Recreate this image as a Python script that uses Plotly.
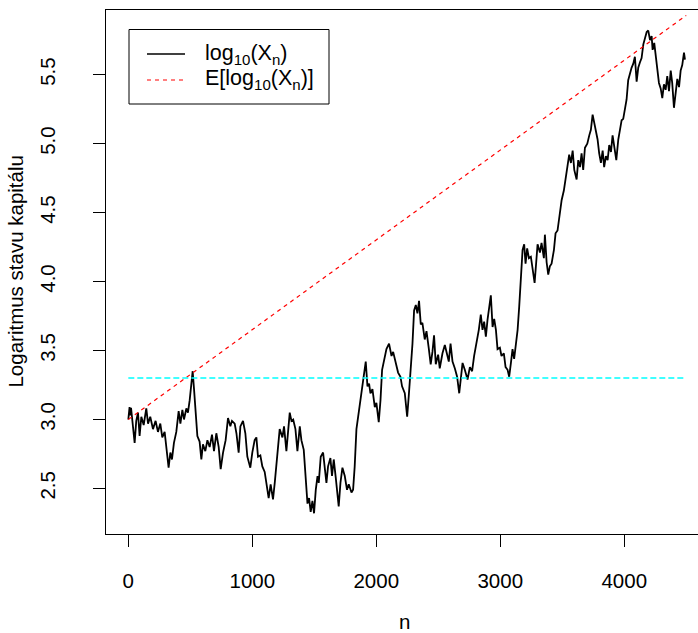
import plotly.graph_objects as go

# ---- data ----
n_steps = [0, 10, 17, 22, 51, 64, 78, 91, 105, 124, 145, 159, 177, 199, 220, 239, 258, 274, 293, 307,
           325, 339, 352, 368, 387, 406, 420, 436, 449, 468, 481, 495, 508, 519, 530, 543, 557, 575, 589,
           602, 621, 638, 656, 675, 691, 710, 729, 745, 764, 785, 804, 823, 836,
           858, 872, 890, 904, 925, 944, 960, 984, 1000, 1019, 1033, 1046, 1065, 1081, 1100, 1119, 1132,
           1148, 1167, 1181, 1199, 1221, 1243, 1256, 1275, 1288, 1302, 1316, 1330, 1348, 1364, 1383, 1396,
           1415, 1429, 1445, 1458, 1471, 1485, 1498, 1512, 1526, 1536, 1552, 1571, 1584, 1598, 1611, 1630,
           1643, 1657, 1673, 1697, 1711, 1727, 1746, 1764, 1778, 1800, 1813, 1826, 1840,
           1867, 1885, 1899, 1915, 1929, 1942, 1953, 1969, 1988, 2001, 2020, 2034, 2047, 2063, 2082, 2103,
           2123, 2136, 2155, 2176, 2195, 2208, 2230, 2249, 2262, 2278, 2292, 2305, 2319, 2332, 2345, 2359,
           2372, 2391, 2405, 2423, 2439, 2453, 2466, 2480, 2499, 2512, 2534, 2553, 2567, 2585, 2599, 2615,
           2634, 2652, 2669, 2682, 2696,
           2714, 2736, 2755, 2773, 2789, 2808, 2827, 2843, 2857, 2870, 2884, 2897, 2910, 2924, 2938, 2951,
           2965, 2978, 2997, 3010, 3029, 3043, 3059, 3072, 3086, 3099, 3112, 3126, 3140, 3153, 3166, 3180,
           3193, 3204, 3217, 3231, 3247, 3261, 3277, 3290, 3301, 3320, 3333, 3352, 3360, 3374, 3387, 3400,
           3414, 3433, 3446, 3462, 3475, 3495, 3513, 3530, 3543, 3556, 3570, 3584, 3597,
           3616, 3629, 3643, 3656, 3669, 3683, 3702, 3718, 3731, 3745, 3758, 3772, 3785, 3798, 3812, 3826,
           3838, 3852, 3866, 3879, 3893, 3906, 3919, 3936, 3952, 3965, 3979, 3992, 4006, 4019, 4032, 4046,
           4059, 4073, 4086, 4100, 4113, 4127, 4140, 4154, 4167, 4181, 4194, 4208, 4221, 4229, 4242, 4256,
           4270, 4280, 4294, 4307, 4320, 4334, 4347, 4361, 4375, 4387, 4401, 4415, 4428, 4442, 4455, 4468,
           4482, 4490]

log_capital = [3.00, 3.09, 3.03, 3.085, 2.83, 2.99, 3.05, 2.88, 3.02, 2.96, 3.08, 2.97, 3.02, 2.93, 2.99,
               2.91, 2.97, 2.87, 2.91, 2.78, 2.65, 2.76, 2.71, 2.83, 2.91, 3.06, 2.97, 3.07, 3.00, 3.08,
               3.05, 3.14, 3.24, 3.35, 3.22, 3.07, 2.88, 2.84, 2.71, 2.82, 2.77, 2.85, 2.80, 2.89, 2.77,
               2.90, 2.80, 2.64, 2.76, 2.85, 3.01, 2.95, 2.99,
               2.97, 2.90, 2.76, 2.95, 2.99, 2.90, 2.73, 2.65, 2.76, 2.85, 2.87, 2.73, 2.74, 2.66, 2.62,
               2.51, 2.43, 2.53, 2.42, 2.54, 2.73, 2.93, 2.87, 2.95, 2.77, 2.91, 3.05, 2.99, 3.00, 2.93,
               2.77, 2.95, 2.85, 2.78, 2.61, 2.39, 2.43, 2.33, 2.41, 2.32, 2.49, 2.59, 2.54, 2.73, 2.76,
               2.65, 2.54, 2.66, 2.72, 2.59, 2.71, 2.58, 2.37, 2.54, 2.65, 2.59, 2.49, 2.53, 2.47, 2.49,
               2.66, 2.93,
               3.11, 3.19, 3.29, 3.42, 3.24, 3.26, 3.19, 3.22, 3.09, 3.12, 2.98, 3.14, 3.36, 3.42, 3.51,
               3.55, 3.46, 3.49, 3.41, 3.34, 3.31, 3.24, 3.19, 3.02, 3.17, 3.34, 3.55, 3.79, 3.83, 3.77,
               3.86, 3.69, 3.70, 3.58, 3.64, 3.52, 3.40, 3.49, 3.61, 3.40, 3.47, 3.37, 3.48, 3.54, 3.48,
               3.42, 3.55, 3.42, 3.37, 3.31, 3.19, 3.29, 3.41,
               3.36, 3.29, 3.38, 3.35, 3.46, 3.55, 3.65, 3.76, 3.65, 3.71, 3.60, 3.72, 3.82, 3.90, 3.67,
               3.73, 3.65, 3.51, 3.52, 3.46, 3.48, 3.38, 3.36, 3.31, 3.41, 3.51, 3.44, 3.55, 3.65, 3.82,
               4.01, 4.23, 4.27, 4.13, 4.24, 4.17, 4.18, 4.08, 3.99, 4.14, 4.27, 4.21, 4.28, 4.17, 4.34,
               4.14, 4.05, 4.11, 4.13, 4.23, 4.35, 4.37, 4.47, 4.59, 4.66, 4.76, 4.86, 4.92, 4.86, 4.95,
               4.81,
               4.74, 4.88, 4.83, 4.93, 4.81, 4.97, 5.00, 5.06, 5.10, 5.21, 5.15, 5.10, 5.03, 4.93, 4.86,
               4.95, 4.83, 4.91, 4.88, 4.99, 4.94, 5.06, 4.98, 4.88, 5.03, 5.10, 5.17, 5.18, 5.24, 5.32,
               5.46, 5.51, 5.55, 5.58, 5.63, 5.45, 5.55, 5.59, 5.62, 5.72, 5.76, 5.81, 5.82, 5.75, 5.78,
               5.68, 5.73, 5.62, 5.52, 5.44, 5.40, 5.33, 5.43, 5.39, 5.49, 5.38, 5.53, 5.44, 5.26, 5.38,
               5.47, 5.41, 5.53, 5.57, 5.66, 5.61]

expected_n = [0, 4500]
expected_log = [3.0, 5.93]

target_n = [0, 4500]
target_log = [3.301, 3.301]

x_ticks = [0, 1000, 2000, 3000, 4000]
y_ticks = [2.5, 3.0, 3.5, 4.0, 4.5, 5.0, 5.5]
y_tick_text = ["2.5", "3.0", "3.5", "4.0", "4.5", "5.0", "5.5"]

legend_labels = ["log<sub>10</sub>(X<sub>n</sub>)", "E[log<sub>10</sub>(X<sub>n</sub>)]"]
legend_colors = ["black", "#ff0000"]
legend_dashes = ["solid", "4px,4px"]

FONT = "Liberation Sans, Arial, sans-serif"
FS = 20.5
FS_LEG = 21.5

# plot-area pixel geometry (used only to place the hand-drawn legend box)
PL, PW, PT, PH = 106, 592, 10, 524


def px_x(x):
    return (x - PL) / PW


def px_y(y):
    return (PT + PH - y) / PH


fig = go.Figure()
fig.add_trace(go.Scatter(x=n_steps, y=log_capital, mode="lines",
                         line=dict(color="black", width=1.8),
                         name=legend_labels[0], showlegend=False))
fig.add_trace(go.Scatter(x=expected_n, y=expected_log, mode="lines",
                         line=dict(color="#ff0000", width=1.2, dash="4px,4px"),
                         name=legend_labels[1], showlegend=False))
fig.add_trace(go.Scatter(x=target_n, y=target_log, mode="lines",
                         line=dict(color="#00ffff", width=1.6, dash="6px,3px"),
                         showlegend=False))

shapes = [dict(type="rect", xref="paper", yref="paper",
               x0=px_x(129), x1=px_x(329), y0=px_y(104), y1=px_y(29.5),
               line=dict(color="black", width=1), fillcolor="white", layer="above")]
annotations = []
for i, (lab, col, dsh) in enumerate(zip(legend_labels, legend_colors, legend_dashes)):
    yc = 54 + 26 * i
    shapes.append(dict(type="line", xref="paper", yref="paper",
                       x0=px_x(147), x1=px_x(185), y0=px_y(yc), y1=px_y(yc),
                       line=dict(color=col, width=1.2 if i else 1.3, dash=dsh), layer="above"))
    annotations.append(dict(text=lab, xref="paper", yref="paper", x=px_x(203), y=px_y(yc),
                            xanchor="left", yanchor="middle", showarrow=False,
                            font=dict(family=FONT, size=FS_LEG)))

annotations += [
    dict(text="n", xref="paper", yref="paper", x=0.505, y=-0.167,
         showarrow=False, font=dict(family=FONT, size=FS), xanchor="center", yanchor="middle"),
    dict(text="Logaritmus stavu kapitálu", xref="paper", yref="paper", x=-0.1545, y=0.5,
         textangle=-90, showarrow=False, font=dict(family=FONT, size=FS),
         xanchor="center", yanchor="middle"),
]

fig.update_layout(
    width=698, height=633,
    margin=dict(l=PL, r=0, t=PT, b=633 - PT - PH, autoexpand=False),
    paper_bgcolor="white", plot_bgcolor="white",
    font=dict(family=FONT, size=FS, color="black"),
    showlegend=False,
    shapes=shapes,
    annotations=annotations,
    xaxis=dict(range=[-180, 4595], tickvals=x_ticks, ticktext=[str(v) for v in x_ticks],
               ticks="outside", ticklen=12, tickwidth=1, tickcolor="black",
               showline=True, linecolor="black", linewidth=1, mirror=True,
               showgrid=False, zeroline=False, ticklabelstandoff=16),
    yaxis=dict(range=[2.1696, 5.969], tickvals=y_ticks, ticktext=y_tick_text,
               ticks="outside", ticklen=12, tickwidth=1, tickcolor="black",
               showline=True, linecolor="black", linewidth=1, mirror=False,
               showgrid=False, zeroline=False, tickangle=-90, ticklabelstandoff=30),
)

fig.write_html("out.html", config={"displayModeBar": False},
               post_script="document.body.style.margin='0';document.body.style.overflow='hidden';")
